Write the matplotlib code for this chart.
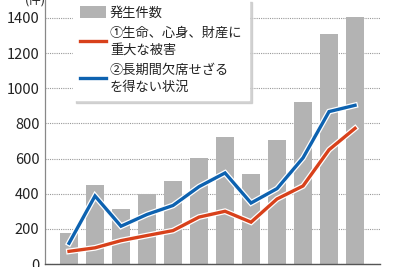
import matplotlib
matplotlib.use("Agg")
import matplotlib.pyplot as plt
import matplotlib.patheffects as pe
from matplotlib.patches import Patch
from matplotlib.lines import Line2D

plt.rcParams['font.family'] = ['Noto Sans CJK JP', 'DejaVu Sans']

# data (fiscal years 2013-2024)
years = list(range(2013, 2025))
total_cases = [179, 449, 314, 396, 474, 602, 723, 514, 705, 923, 1306, 1405]
type1_cases = [72, 92, 133, 162, 190, 267, 300, 238, 370, 444, 650, 772]
type2_cases = [118, 387, 215, 282, 333, 440, 518, 347, 429, 604, 867, 903]
yticks = [0, 200, 400, 600, 800, 1000, 1200, 1400]

bar_color = "#b3b3b3"
red = "#d8411b"
blue = "#0d62b0"

fig = plt.figure(figsize=(4, 2.67), dpi=100)
ax = fig.add_axes([45 / 400, 3 / 267, 335 / 400, 264 / 267])

xs = list(range(len(years)))
ax.bar(xs, total_cases, width=0.69, color=bar_color, zorder=2)

outline = [pe.Stroke(linewidth=4.2, foreground="white"), pe.Normal()]
ax.plot(xs, type1_cases, color=red, lw=2.4, zorder=3, path_effects=outline,
        solid_joinstyle="miter")
ax.plot(xs, type2_cases, color=blue, lw=2.4, zorder=4, path_effects=outline,
        solid_joinstyle="miter")

ax.set_xlim(-0.923, 11.96)
ax.set_ylim(0, 1502)
ax.set_yticks(yticks)
ax.set_xticks([])
ax.grid(axis="y", color="#999999", lw=0.8, ls=(0, (1, 1)), zorder=1)

for s in ["top", "right"]:
    ax.spines[s].set_visible(False)
ax.spines["left"].set_color("#888888")
ax.spines["left"].set_linewidth(0.9)
ax.spines["bottom"].set_color("#555555")
ax.spines["bottom"].set_linewidth(1.0)
ax.tick_params(axis="y", length=0, pad=4, labelsize=10.5, labelcolor="#222222")

fig.text(35 / 400, 1.0, "(件)", ha="center", va="center", fontsize=9, color="#222222")

handles = [
    Patch(facecolor=bar_color, edgecolor="none"),
    Line2D([0], [0], color=red, lw=2.4),
    Line2D([0], [0], color=blue, lw=2.4),
]
labels = ["発生件数", "①生命、心身、財産に\n重大な被害", "②長期間欠席せざる\nを得ない状況"]
leg = ax.legend(handles, labels, loc="upper left", bbox_to_anchor=(73 / 400, 1.004),
                bbox_transform=fig.transFigure, fontsize=9.5, frameon=True,
                fancybox=False, shadow={"color": "#c8c8c8", "alpha": 0.8},
                edgecolor="white", framealpha=1, handlelength=2.0, handleheight=1.1,
                handletextpad=0.3, labelspacing=0.55, borderpad=0.5,
                borderaxespad=0)
leg.set_zorder(10)
for t in leg.get_texts():
    t.set_linespacing(1.4)
    t.set_color("#222222")

plt.savefig("out.png", dpi=100)
